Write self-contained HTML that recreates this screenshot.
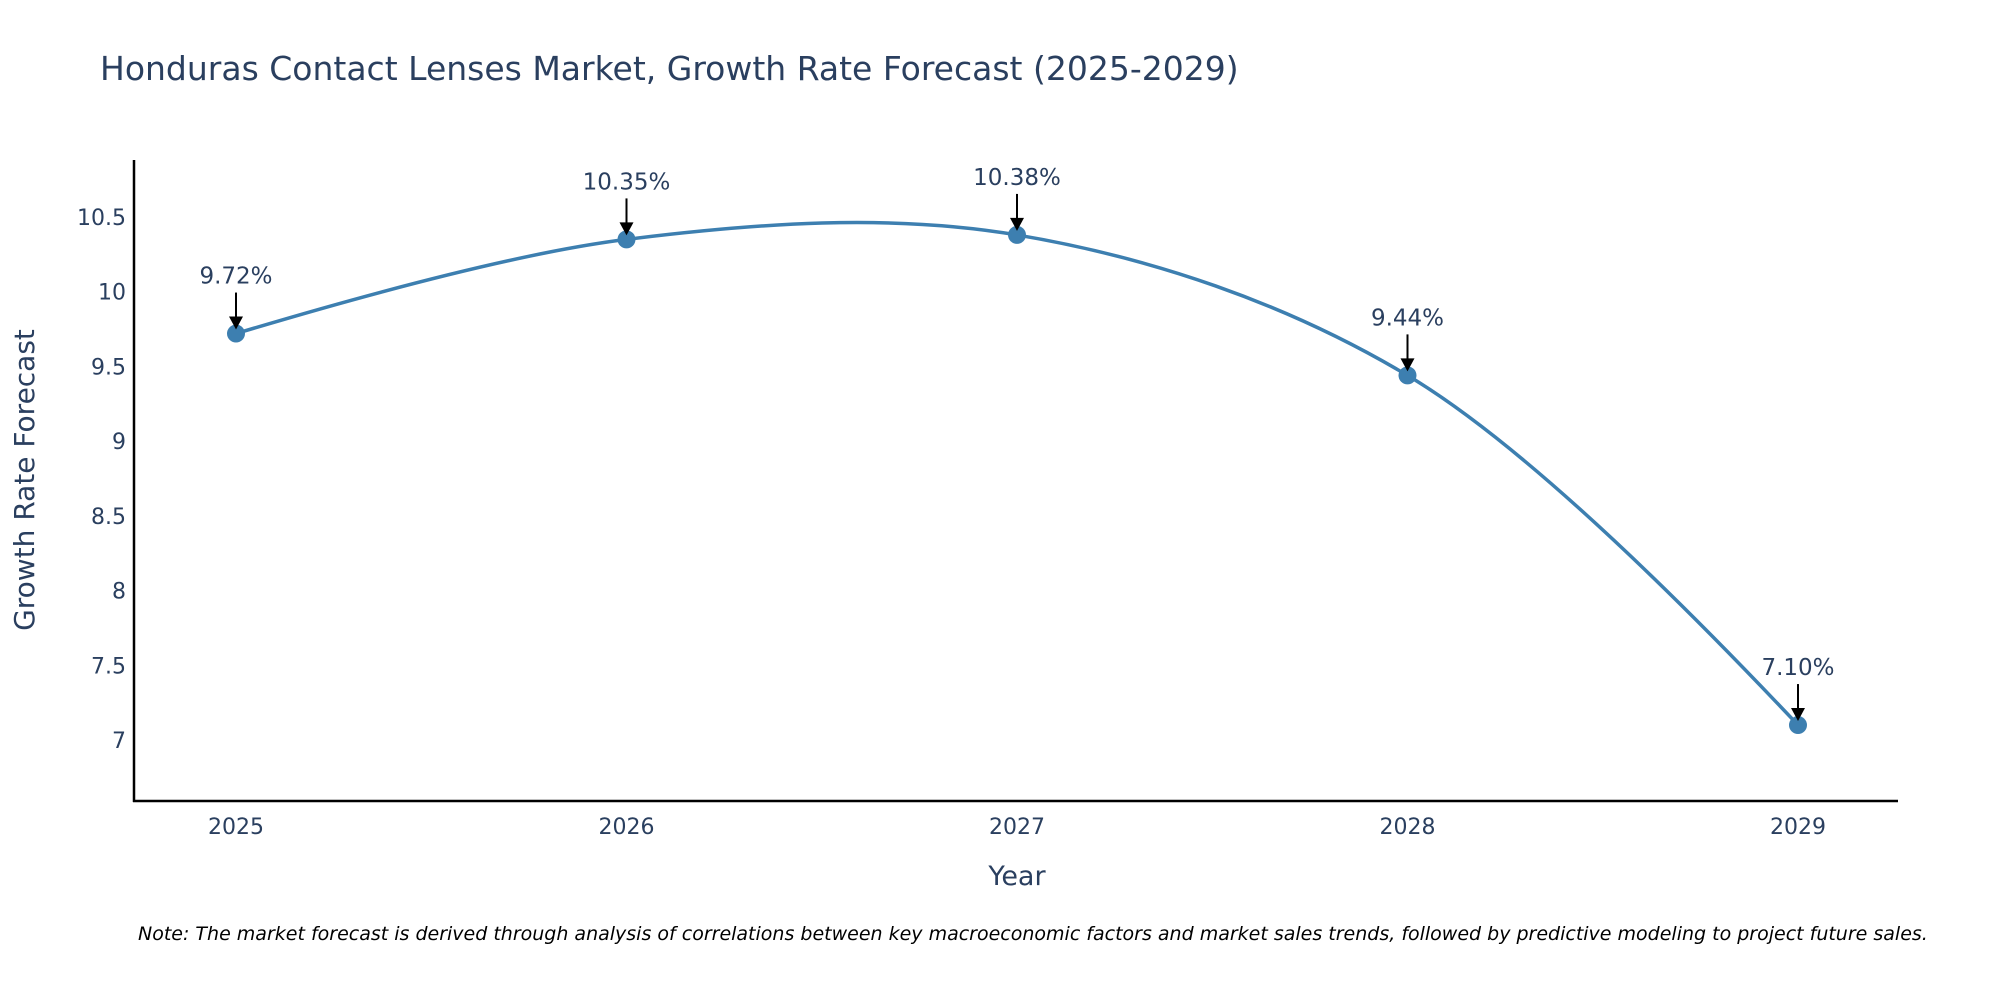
<!DOCTYPE html>
<html><head><meta charset="utf-8"><style>
body{margin:0;background:#fff}
svg{display:block;font-family:"DejaVu Sans","Liberation Sans",sans-serif}
</style></head><body>
<svg width="2000" height="1000" viewBox="0 0 2000 1000">
<text x="100" y="80" font-size="33" fill="#2a3f5f">Honduras Contact Lenses Market, Growth Rate Forecast (2025-2029)</text>
<g id="yticks"></g><g id="xticks"></g>
<line x1="134" y1="160" x2="134" y2="802" stroke="#000" stroke-width="2.5"/>
<line x1="133" y1="801" x2="1898" y2="801" stroke="#000" stroke-width="2.5"/>
<path id="line" fill="none" stroke="#3d7fb0" stroke-width="3.5"/>
<g id="marks"></g>
<text x="34" y="480" font-size="28" fill="#2a3f5f" text-anchor="middle" transform="rotate(-90 34 480)">Growth Rate Forecast</text>
<text x="1017" y="885" font-size="27" fill="#2a3f5f" text-anchor="middle">Year</text>
<text x="138" y="940" font-size="19" font-style="italic" fill="#000">Note: The market forecast is derived through analysis of correlations between key macroeconomic factors and market sales trends, followed by predictive modeling to project future sales.</text>
</svg>
<script>
const years=[2025,2026,2027,2028,2029];
const values=[9.72,10.35,10.38,9.44,7.10];
const labels=["9.72%","10.35%","10.38%","9.44%","7.10%"];
const yTicks=[7,7.5,8,8.5,9,9.5,10,10.5];
const NS="http://www.w3.org/2000/svg";
const X=v=>236+(v-2025)*390.5;
const Y=v=>740-(v-7)*(523/3.5);
function el(t,a,p){const e=document.createElementNS(NS,t);for(const k in a)e.setAttribute(k,a[k]);document.getElementById(p).appendChild(e);return e;}
yTicks.forEach(t=>{const e=el('text',{x:126,y:Y(t)+8,'font-size':22,fill:'#2a3f5f','text-anchor':'end'},'yticks');e.textContent=String(t);

});
years.forEach(t=>{const e=el('text',{x:X(t),y:834,'font-size':22,fill:'#2a3f5f','text-anchor':'middle'},'xticks');e.textContent=String(t);

});
const pts=years.map((y,i)=>[X(y),Y(values[i])]);
function tangent(a,b,c,s){const d1x=a[0]-b[0],d1y=a[1]-b[1],d2x=c[0]-b[0],d2y=c[1]-b[1];
const d1a=Math.pow(d1x*d1x+d1y*d1y,0.25),d2a=Math.pow(d2x*d2x+d2y*d2y,0.25);
const nx=(d2a*d2a*d1x-d1a*d1a*d2x)*s,ny=(d2a*d2a*d1y-d1a*d1a*d2y)*s;
const q1=3*d2a*(d1a+d2a),q2=3*d1a*(d1a+d2a);
return [[b[0]+nx/q1,b[1]+ny/q1],[b[0]-nx/q2,b[1]-ny/q2]];}
const tg=[];for(let i=1;i<pts.length-1;i++)tg.push(tangent(pts[i-1],pts[i],pts[i+1],1));
let d=`M${pts[0]}Q${tg[0][0]} ${pts[1]}`;
for(let i=2;i<pts.length-1;i++)d+=`C${tg[i-2][1]} ${tg[i-1][0]} ${pts[i]}`;
d+=`Q${tg[tg.length-1][1]} ${pts[pts.length-1]}`;
document.getElementById('line').setAttribute('d',d);
pts.forEach((p,i)=>{
const c=el('circle',{cx:p[0],cy:p[1],r:9,fill:'#3d7fb0'},'marks');


const l=el('line',{x1:p[0],y1:p[1]-41,x2:p[0],y2:p[1]-14,stroke:'#000','stroke-width':2},'marks');


const h=el('polygon',{points:`${p[0]-7},${p[1]-17} ${p[0]+7},${p[1]-17} ${p[0]},${p[1]-4}`,fill:'#000'},'marks');


const t=el('text',{x:p[0],y:p[1]-50,'font-size':23,fill:'#2a3f5f','text-anchor':'middle'},'marks');t.textContent=labels[i];


});
</script>
</body></html>
